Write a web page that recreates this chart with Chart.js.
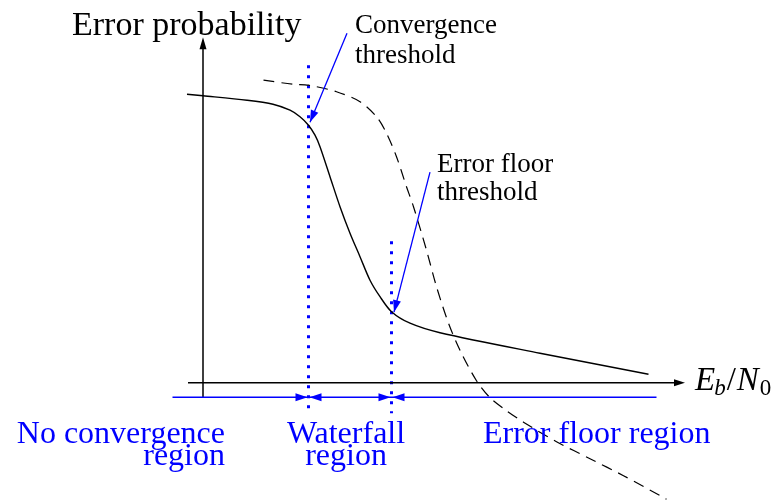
<!DOCTYPE html>
<html>
<head>
<meta charset="utf-8">
<script src="https://cdn.jsdelivr.net/npm/chart.js@4/dist/chart.umd.min.js"></script>
<style>
  html, body { margin: 0; padding: 0; background: #fff; }
  #c { display: block; }
</style>
</head>
<body>
<canvas id="c" width="779" height="502"></canvas>
<script>
// solid curve (iterative decoding), arbitrary units: x = Eb/N0, y = error probability
const solidX = [-0.32, 0.00, 0.88, 1.40, 1.74, 1.94, 2.11, 2.24, 2.34, 2.54, 2.74, 2.94, 3.14, 3.34, 3.54, 3.77, 4.14, 4.74, 6.74, 8.91]
const solidY = [5.77, 5.74, 5.65, 5.57, 5.45, 5.32, 5.15, 4.95, 4.72, 4.12, 3.52, 2.99, 2.52, 2.05, 1.72, 1.42, 1.19, 1.00, 0.59, 0.17]

// dashed curve (reference)
const dashedX = [1.21, 1.80, 2.11, 2.67, 3.14, 3.47, 3.67, 3.87, 4.07, 4.21, 4.47, 4.67, 4.91, 5.14, 5.47, 5.74, 6.07, 6.41, 7.07, 7.74, 8.41, 9.27]
const dashedY = [6.05, 5.97, 5.95, 5.82, 5.62, 5.32, 4.99, 4.52, 3.92, 3.52, 2.65, 1.92, 1.19, 0.65, 0.04, -0.30, -0.56, -0.79, -1.18, -1.52, -1.86, -2.33]

// thresholds: convergence, error floor
const thresholdX = [2.11, 3.77]
const thresholdTop = [6.35, 2.83]
const thresholdBottom = -0.61

// region labels
const regionLabels = [['No convergence', 'region'], ['Waterfall', 'region'], ['Error floor region']]
const thresholdLabels = [['Convergence', 'threshold'], ['Error floor', 'threshold']]

const BLUE = '#0000ff'
const toPts = (xs, ys) => xs.map((x, i) => ({ x: x, y: ys[i] }))

// arrow head at (tx,ty) coming from (fx,fy)
function arrowHead(ctx, fx, fy, tx, ty, len, half) {
  const a = Math.atan2(ty - fy, tx - fx)
  ctx.beginPath()
  ctx.moveTo(tx, ty)
  ctx.lineTo(tx - len * Math.cos(a) + half * Math.sin(a), ty - len * Math.sin(a) - half * Math.cos(a))
  ctx.lineTo(tx - len * Math.cos(a) - half * Math.sin(a), ty - len * Math.sin(a) + half * Math.cos(a))
  ctx.closePath()
  ctx.fill()
}

const decorations = {
  id: 'decorations',
  afterDatasetsDraw(chart) {
    const ctx = chart.ctx
    const sx = chart.scales.x
    const sy = chart.scales.y
    const X = (v) => sx.getPixelForValue(v)
    const Y = (v) => sy.getPixelForValue(v)
    ctx.save()

    // axes
    ctx.strokeStyle = '#000'
    ctx.fillStyle = '#000'
    ctx.lineWidth = 1.5
    ctx.beginPath()
    ctx.moveTo(X(-0.30), Y(0))
    ctx.lineTo(X(9.5), Y(0))
    ctx.moveTo(X(0), Y(-0.30))
    ctx.lineTo(X(0), Y(6.75))
    ctx.stroke()
    arrowHead(ctx, X(0), Y(0), X(9.64), Y(0), 11, 3.5)
    arrowHead(ctx, X(0), Y(0), X(0), Y(6.91), 12, 3.5)

    // region arrows
    const rowY = Y(-0.29)
    ctx.strokeStyle = BLUE
    ctx.fillStyle = BLUE
    ctx.lineWidth = 1.4
    ctx.beginPath()
    ctx.moveTo(X(-0.61), rowY)
    ctx.lineTo(X(9.07), rowY)
    ctx.stroke()
    thresholdX.forEach((t) => {
      arrowHead(ctx, X(t) - 20, rowY, X(t) - 1, rowY, 12, 4)
      arrowHead(ctx, X(t) + 20, rowY, X(t) + 1, rowY, 12, 4)
    })

    // threshold pointers
    const pointers = [
      [2.88, 6.99, 2.14, 5.21],
      [4.54, 4.21, 3.82, 1.41],
    ]
    ctx.lineWidth = 1.3
    pointers.forEach((p) => {
      ctx.beginPath()
      ctx.moveTo(X(p[0]), Y(p[1]))
      ctx.lineTo(X(p[2]), Y(p[3]))
      ctx.stroke()
      arrowHead(ctx, X(p[0]), Y(p[1]), X(p[2]), Y(p[3]), 12, 4)
    })

    // texts
    ctx.textBaseline = 'alphabetic'
    ctx.fillStyle = '#000'
    ctx.font = '34px "Liberation Serif"'
    ctx.textAlign = 'left'
    ctx.fillText('Error probability', X(-2.62), Y(6.95))

    ctx.font = '27px "Liberation Serif"'
    ctx.fillText(thresholdLabels[0][0], X(3.04), Y(6.99))
    ctx.fillText(thresholdLabels[0][1], X(3.04), Y(6.39))
    ctx.fillText(thresholdLabels[1][0], X(4.68), Y(4.21))
    ctx.fillText(thresholdLabels[1][1], X(4.68), Y(3.65))

    // Eb/N0
    let ex = X(9.84)
    const eb = Y(-0.15)
    const parts = [
      ['E', 'italic 33px "Liberation Serif"', 0],
      ['b', 'italic 23px "Liberation Serif"', 5],
      ['/', '33px "Liberation Serif"', 0],
      ['N', 'italic 33px "Liberation Serif"', 0],
      ['0', '23px "Liberation Serif"', 5],
    ]
    parts.forEach((p) => {
      ctx.font = p[1]
      ctx.fillText(p[0], ex, eb + p[2])
      ex += ctx.measureText(p[0]).width + (p[0] === 'E' ? -1 : 1)
    })

    ctx.fillStyle = BLUE
    ctx.font = '32px "Liberation Serif"'
    ctx.textAlign = 'right'
    ctx.fillText(regionLabels[0][0], X(0.44), Y(-1.21))
    ctx.fillText(regionLabels[0][1], X(0.44), Y(-1.65))
    ctx.textAlign = 'center'
    ctx.fillText(regionLabels[1][0], X(2.86), Y(-1.21))
    ctx.fillText(regionLabels[1][1], X(2.86), Y(-1.65))
    ctx.textAlign = 'left'
    ctx.fillText(regionLabels[2][0], X(5.6), Y(-1.21))

    ctx.restore()
  },
}

const ctx = document.getElementById('c').getContext('2d')
const chart = new Chart(ctx, {
  type: 'scatter',
  data: {
    datasets: [
      {
        data: toPts(solidX, solidY),
        showLine: true,
        borderColor: '#000',
        borderWidth: 1.4,
        pointRadius: 0,
        tension: 0.3,
      },
      {
        data: toPts(dashedX, dashedY),
        showLine: true,
        borderColor: '#000',
        borderWidth: 1.2,
        borderDash: [11, 7],
        pointRadius: 0,
        tension: 0.3,
      },
      ...thresholdX.map((t, i) => ({
        data: [{ x: t, y: thresholdTop[i] }, { x: t, y: thresholdBottom }],
        showLine: true,
        borderColor: BLUE,
        borderWidth: 3,
        borderDash: [3, 7],
        borderCapStyle: 'butt',
        pointRadius: 0,
      })),
    ],
  },
  options: {
    responsive: false,
    animation: false,
    devicePixelRatio: 1,
    layout: { padding: 0 },
    plugins: { legend: { display: false }, tooltip: { enabled: false } },
    scales: {
      x: { type: 'linear', display: false, min: -4.06, max: 11.52 },
      y: { type: 'linear', display: false, min: -2.386, max: 7.654 },
    },
  },
  plugins: [decorations],
})
</script>
</body>
</html>
